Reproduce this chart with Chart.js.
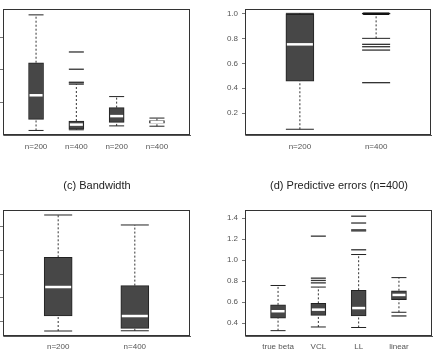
<!DOCTYPE html>
<html>
<head>
<title>Box plots</title>
<script src="https://cdn.jsdelivr.net/npm/chart.js@4.4.1/dist/chart.umd.min.js"></script>
<style>
body { margin: 0; background: #fff; overflow: hidden; width: 438px; height: 351px; position: relative; }
.panel { position: absolute; }
.ttl { position: absolute; font: 11px "Liberation Sans", Arial, sans-serif; color: #222; text-align: center; }
</style>
</head>
<body>
<div class="panel" style="left:0;top:0;width:219px;height:175px"><canvas id="boxA"></canvas></div>
<div class="panel" style="left:219px;top:0;width:219px;height:175px"><canvas id="boxB"></canvas></div>
<div class="panel" style="left:0;top:175px;width:219px;height:176px"><canvas id="boxC"></canvas></div>
<div class="panel" style="left:219px;top:175px;width:219px;height:176px"><canvas id="boxD"></canvas></div>
<div class="ttl" style="left:0;top:179px;width:194px">(c) Bandwidth</div>
<div class="ttl" style="left:219px;top:179px;width:240px">(d) Predictive errors (n=400)</div>

<script type="text/javascript">
// panel a (top left, axis labels cut off)
var labelsA = ["n=200", "n=400", "n=200", "n=400"];
var lowA  = [0.14, 0.16, 0.28, 0.27];
var q1A   = [0.48, 0.18, 0.39, 0.36];
var medA  = [1.22, 0.32, 0.58, 0.40];
var q3A   = [2.22, 0.43, 0.84, 0.44];
var highA = [3.69, 1.56, 1.18, 0.52];
var outA  = [[], [1.60, 1.62, 2.02, 2.55], [], []];
var yTicksA = [1, 2, 3];

// panel b (top right)
var labelsB = ["n=200", "n=400"];
var lowB  = [0.072, 0.80];
var q1B   = [0.458, 0.994];
var medB  = [0.752, 0.997];
var q3B   = [0.992, 1.0];
var highB = [1.0, 1.0];
var outB  = [[], [0.752, 0.733, 0.706, 0.445]];
var yTicksB = [0.2, 0.4, 0.6, 0.8, 1.0];

// panel c: bandwidth
var labelsC = ["n=200", "n=400"];
var lowC  = [0.61, 0.62];
var q1C   = [1.24, 0.72];
var medC  = [2.46, 1.24];
var q3C   = [3.71, 2.52];
var highC = [5.49, 5.07];
var outC  = [[], []];
var yTicksC = [1, 2, 3, 4, 5];

// panel d: predictive errors
var labelsD = ["true beta", "VCL", "LL", "linear"];
var lowD  = [0.33, 0.365, 0.36, 0.505];
var q1D   = [0.45, 0.475, 0.47, 0.625];
var medD  = [0.515, 0.53, 0.545, 0.67];
var q3D   = [0.575, 0.59, 0.715, 0.71];
var highD = [0.76, 0.745, 1.055, 0.835];
var outD  = [[], [0.785, 0.808, 0.83, 1.23], [1.10, 1.28, 1.29, 1.355, 1.42], [0.47]];
var yTicksD = [0.4, 0.6, 0.8, 1.0, 1.2, 1.4];

var frame = {
  id: "frame",
  afterDraw: function(chart) {
    var a = chart.chartArea, c = chart.ctx;
    c.save();
    c.strokeStyle = "#333";
    c.lineWidth = 1;
    c.strokeRect(Math.round(a.left) + 0.5, Math.round(a.top) + 0.5, Math.round(a.right - a.left) - 1, Math.round(a.bottom - a.top) - 1);
    c.restore();
  }
};

function boxChart(id, labels, low, q1, med, q3, high, outs, yTicks, o) {
  var boxes = [], whisk = [], caps = [], meds = [], medCol = [], pts = [];
  for (var i = 0; i < labels.length; i++) {
    var x = i + 1;
    boxes.push({x: x, y: [q1[i], q3[i]]});
    whisk.push({x: x, y: q3[i]}, {x: x, y: high[i]}, {x: x, y: null});
    whisk.push({x: x, y: low[i]}, {x: x, y: q1[i]}, {x: x, y: null});
    caps.push({x: x, y: high[i]}, {x: x, y: low[i]});
    meds.push({x: x, y: med[i]});
    // a collapsed box shows as a dark bar, no white median
    medCol.push(q3[i] - q1[i] < 0.01 ? "#111" : "#fff");
    outs[i].forEach(function(v) { pts.push({x: x, y: v}); });
  }
  var half = o.boxW / 2;
  return new Chart(document.getElementById(id), {
    type: "bar",
    data: {
      datasets: [
        { type: "line", data: meds, showLine: false, pointStyle: "line", pointRadius: half - 1,
          borderColor: medCol, pointBorderColor: medCol, pointBorderWidth: 2.5, order: 0 },
        { type: "line", data: pts, showLine: false, pointStyle: "line", pointRadius: half,
          borderColor: "#333", pointBorderWidth: 1.3, order: 1 },
        { type: "line", data: caps, showLine: false, pointStyle: "line", pointRadius: half,
          borderColor: "#222", pointBorderWidth: 1, order: 2 },
        { data: boxes, backgroundColor: "#474747", borderColor: "#222", borderWidth: 1,
          borderSkipped: false, barThickness: o.boxW, order: 3 },
        { type: "line", data: whisk, spanGaps: false, borderColor: "#333", borderWidth: 1,
          borderDash: [2, 2], pointRadius: 0, order: 4 }
      ]
    },
    options: {
      responsive: true,
      maintainAspectRatio: false,
      animation: false,
      layout: { autoPadding: false, padding: { top: o.top, right: o.right, left: 0, bottom: 0 } },
      plugins: { legend: { display: false }, tooltip: { enabled: false } },
      scales: {
        x: {
          type: "linear", offset: false, min: o.xMin, max: o.xMax,
          afterBuildTicks: function(ax) { ax.ticks = labels.map(function(_, i) { return {value: i + 1}; }); },
          afterFit: function(ax) { ax.height = o.xH; ax.paddingLeft = 0; ax.paddingRight = 0; },
          grid: { display: false, drawTicks: false },
          border: { display: true, color: "#555" },
          ticks: { padding: o.xPad, color: "#555", font: { family: "Liberation Sans", size: 8 },
            maxRotation: 0, autoSkip: false,
            callback: function(v) { return labels[v - 1]; } }
        },
        y: {
          min: o.yMin, max: o.yMax,
          afterBuildTicks: function(ax) { ax.ticks = yTicks.map(function(v) { return {value: v}; }); },
          afterFit: function(ax) { ax.width = o.yW; ax.paddingTop = 0; ax.paddingBottom = 0; },
          grid: { drawOnChartArea: false, drawTicks: true, tickLength: 3, color: "#777" },
          border: { display: true, color: "#888" },
          ticks: { display: o.yLabels, padding: 4, color: "#555", font: { family: "Liberation Sans", size: 8 },
            callback: function(v) { return v.toFixed(1); } }
        }
      }
    },
    plugins: [frame]
  });
}

boxChart("boxA", labelsA, lowA, q1A, medA, q3A, highA, outA, yTicksA,
  { boxW: 15, top: 9, right: 29, xH: 40, xPad: 7, yW: 3, yLabels: false,
    xMin: 0.18, xMax: 4.82, yMin: 0, yMax: 3.87 });
boxChart("boxB", labelsB, lowB, q1B, medB, q3B, highB, outB, yTicksB,
  { boxW: 28, top: 9, right: 7, xH: 40, xPad: 7, yW: 26, yLabels: true,
    xMin: 0.28, xMax: 2.72, yMin: 0.026, yMax: 1.035 });
boxChart("boxC", labelsC, lowC, q1C, medC, q3C, highC, outC, yTicksC,
  { boxW: 28, top: 35, right: 29, xH: 15, xPad: 6, yW: 3, yLabels: false,
    xMin: 0.28, xMax: 2.72, yMin: 0.40, yMax: 5.70 });
boxChart("boxD", labelsD, lowD, q1D, medD, q3D, highD, outD, yTicksD,
  { boxW: 15, top: 35, right: 6, xH: 15, xPad: 6, yW: 26, yLabels: true,
    xMin: 0.18, xMax: 4.82, yMin: 0.279, yMax: 1.479 });
</script>
</body>
</html>
